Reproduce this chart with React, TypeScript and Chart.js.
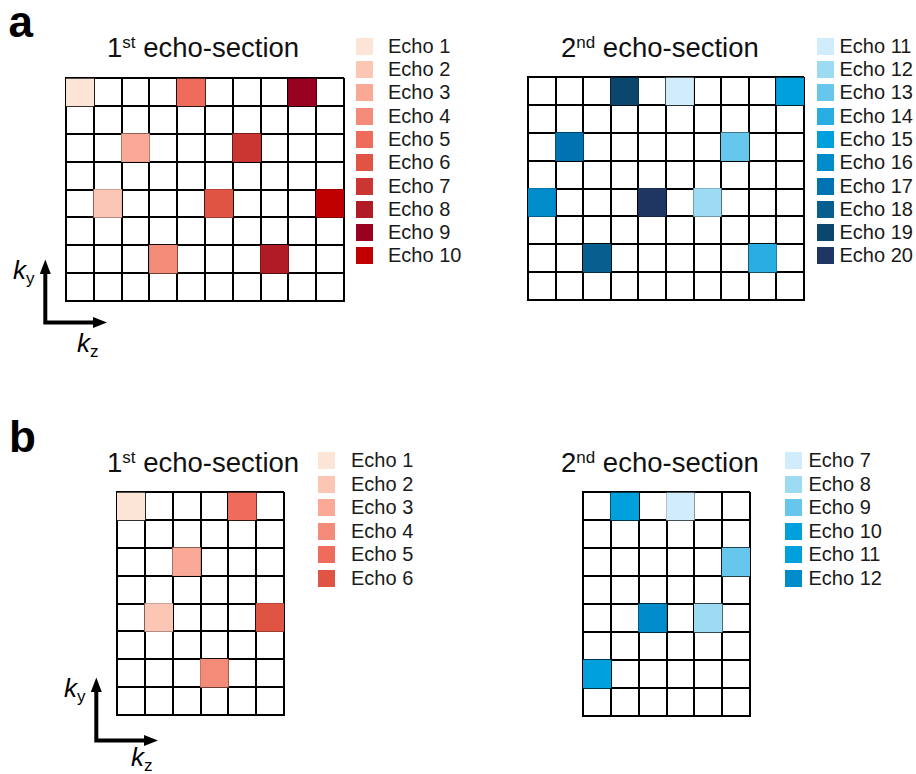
import React, { useEffect, useRef } from "react";
import { Chart, registerables } from "chart.js";

Chart.register(...registerables);

// ---------- data ----------
const ROW_COUNT = 8;
const KZ_LABELS_A = ["1", "2", "3", "4", "5", "6", "7", "8", "9", "10"];
const KZ_LABELS_B = ["1", "2", "3", "4", "5", "6"];

const RED_ECHO_COLORS = [
  "#fce4d6", "#fcc6b5", "#f9a996", "#f38b78", "#ef6b5b",
  "#e05444", "#cb3532", "#b01b25", "#98011f", "#c00000",
];
const BLUE_ECHO_COLORS_A = [
  "#d1ecfa", "#9ddbf3", "#66c6ec", "#2aade2", "#00a0dc",
  "#008cca", "#0073b3", "#065f8f", "#0b466d", "#1f3663",
];
const BLUE_ECHO_COLORS_B = ["#d1ecfa", "#9ddbf3", "#66c6ec", "#00a0dc", "#00a0dc", "#008cca"];

// panel a, 1st echo-section
const A1_ECHOES = [1, 2, 3, 4, 5, 6, 7, 8, 9, 10];
const A1_KZ = ["1", "2", "3", "4", "5", "6", "7", "8", "9", "10"];
const A1_KY_ROW = [1, 5, 3, 7, 1, 5, 3, 7, 1, 5];
// panel a, 2nd echo-section
const A2_ECHOES = [11, 12, 13, 14, 15, 16, 17, 18, 19, 20];
const A2_KZ = ["6", "7", "8", "9", "10", "1", "2", "3", "4", "5"];
const A2_KY_ROW = [1, 5, 3, 7, 1, 5, 3, 7, 1, 5];
// panel b, 1st echo-section
const B1_ECHOES = [1, 2, 3, 4, 5, 6];
const B1_KZ = ["1", "2", "3", "4", "5", "6"];
const B1_KY_ROW = [1, 5, 3, 7, 1, 5];
// panel b, 2nd echo-section
const B2_ECHOES = [7, 8, 9, 10, 11, 12];
const B2_KZ = ["4", "5", "6", "1", "2", "3"];
const B2_KY_ROW = [1, 5, 3, 7, 1, 5];

// ---------- layout ----------
const FONT = "'Liberation Sans', Arial, Helvetica, sans-serif";
const PAD = 3;

type PanelDef = {
  id: string;
  labels: string[];
  echoes: number[];
  kz: string[];
  kyRow: number[];
  colors: string[];
  colorOffset: number;
  grid: { left: number; top: number; w: number; h: number };
  legend: { boxLeft: number; top: number; textLeft: number; step: number };
  title: { num: string; sup: string; left: number; top: number };
};

const PANELS: PanelDef[] = [
  {
    id: "a1", labels: KZ_LABELS_A, echoes: A1_ECHOES, kz: A1_KZ, kyRow: A1_KY_ROW,
    colors: RED_ECHO_COLORS, colorOffset: 1,
    grid: { left: 66, top: 78, w: 278, h: 223 },
    legend: { boxLeft: 356, top: 37.7, textLeft: 388, step: 23.3 },
    title: { num: "1", sup: "st", left: 107, top: 33.5 },
  },
  {
    id: "a2", labels: KZ_LABELS_A, echoes: A2_ECHOES, kz: A2_KZ, kyRow: A2_KY_ROW,
    colors: BLUE_ECHO_COLORS_A, colorOffset: 11,
    grid: { left: 528, top: 77, w: 276, h: 223 },
    legend: { boxLeft: 817, top: 37.7, textLeft: 839.5, step: 23.3 },
    title: { num: "2", sup: "nd", left: 561, top: 33.5 },
  },
  {
    id: "b1", labels: KZ_LABELS_B, echoes: B1_ECHOES, kz: B1_KZ, kyRow: B1_KY_ROW,
    colors: RED_ECHO_COLORS, colorOffset: 1,
    grid: { left: 117, top: 492, w: 167, h: 223 },
    legend: { boxLeft: 318, top: 452.3, textLeft: 351, step: 23.5 },
    title: { num: "1", sup: "st", left: 107, top: 448.5 },
  },
  {
    id: "b2", labels: KZ_LABELS_B, echoes: B2_ECHOES, kz: B2_KZ, kyRow: B2_KY_ROW,
    colors: BLUE_ECHO_COLORS_B, colorOffset: 7,
    grid: { left: 583, top: 492, w: 167, h: 224 },
    legend: { boxLeft: 784.5, top: 452.3, textLeft: 808.5, step: 23.5 },
    title: { num: "2", sup: "nd", left: 561, top: 448.5 },
  },
];

function GridChart({ p }: { p: PanelDef }) {
  const ref = useRef<HTMLCanvasElement | null>(null);
  useEffect(() => {
    if (!ref.current) return;
    const cellColors = p.echoes.map((e) => p.colors[e - p.colorOffset]);
    const chart = new Chart(ref.current, {
      type: "bar",
      data: {
        labels: p.labels,
        datasets: [
          {
            label: "echoes",
            data: p.echoes.map((_, i) => ({ x: p.kz[i], y: [p.kyRow[i] - 1, p.kyRow[i]] })) as any,
            backgroundColor: cellColors,
            borderWidth: 0,
            barPercentage: 1,
            categoryPercentage: 1,
          },
        ],
      },
      options: {
        animation: false,
        responsive: false,
        events: [],
        layout: { padding: PAD },
        plugins: {
          legend: { display: false },
          title: { display: false },
          tooltip: { enabled: false },
        },
        scales: {
          x: {
            type: "category",
            offset: true,
            z: 1,
            grid: { offset: true, color: "#000", lineWidth: 2, drawTicks: false },
            border: { display: true, color: "#000", width: 2 },
            ticks: { display: false },
          },
          y: {
            type: "linear",
            min: 0,
            max: ROW_COUNT,
            reverse: true,
            z: 1,
            grid: { color: "#000", lineWidth: 2, drawTicks: false },
            border: { display: true, color: "#000", width: 2 },
            ticks: { display: false, stepSize: 1 },
          },
        },
      } as any,
    });
    return () => chart.destroy();
  }, [p]);
  const w = p.grid.w + 2 * PAD;
  const h = p.grid.h + 2 * PAD;
  return (
    <div style={{ position: "absolute", left: p.grid.left - PAD, top: p.grid.top - PAD, width: w, height: h }}>
      <canvas ref={ref} width={w} height={h} style={{ display: "block", width: w, height: h }} />
    </div>
  );
}

function Legend({ p }: { p: PanelDef }) {
  return (
    <>
      {p.echoes.map((e, i) => {
        const top = p.legend.top + i * p.legend.step;
        return (
          <React.Fragment key={e}>
            <div
              style={{
                position: "absolute", left: p.legend.boxLeft, top, width: 17, height: 17,
                background: p.colors[e - p.colorOffset],
              }}
            />
            <div
              style={{
                position: "absolute", left: p.legend.textLeft, top, height: 17, lineHeight: "17px",
                fontSize: 20, fontFamily: FONT, color: "#1a1a1a", whiteSpace: "nowrap",
              }}
            >
              {`Echo ${e}`}
            </div>
          </React.Fragment>
        );
      })}
    </>
  );
}

function Title({ p }: { p: PanelDef }) {
  return (
    <div
      style={{
        position: "absolute", left: p.title.left, top: p.title.top, fontSize: 27.5, lineHeight: "27px",
        fontFamily: FONT, color: "#111", whiteSpace: "nowrap",
      }}
    >
      {p.title.num}
      <span style={{ fontSize: 17, position: "relative", top: -9 }}>{p.title.sup}</span>
      {" echo-section"}
    </div>
  );
}

function Axes({ dx, dy, kzDx, kzDy }: { dx: number; dy: number; kzDx: number; kzDy: number }) {
  return (
    <>
      <svg
        style={{ position: "absolute", left: 0, top: 0, overflow: "visible" }}
        width={916}
        height={774}
      >
        <path
          d={`M${45.3 + dx} ${272 + dy} L${45.3 + dx} ${322.5 + dy} L${94 + dx} ${322.5 + dy}`}
          stroke="#000" strokeWidth={4} fill="none" strokeLinejoin="miter"
        />
        <polygon
          points={`${39.8 + dx},${274 + dy} ${45.3 + dx},${259.5 + dy} ${50.8 + dx},${274 + dy}`}
          fill="#000"
        />
        <polygon
          points={`${93 + dx},${317 + dy} ${107 + dx},${322.5 + dy} ${93 + dx},${328 + dy}`}
          fill="#000"
        />
      </svg>
      <div
        style={{
          position: "absolute", left: 13 + dx, top: 257 + dy, fontSize: 26, lineHeight: "26px",
          fontFamily: FONT, fontStyle: "italic", whiteSpace: "nowrap",
        }}
      >
        k<span style={{ fontSize: 17, fontStyle: "normal", position: "relative", top: 5 }}>y</span>
      </div>
      <div
        style={{
          position: "absolute", left: 77 + kzDx, top: 330 + kzDy, fontSize: 26, lineHeight: "26px",
          fontFamily: FONT, fontStyle: "italic", whiteSpace: "nowrap",
        }}
      >
        k<span style={{ fontSize: 17, fontStyle: "normal", position: "relative", top: 5 }}>z</span>
      </div>
    </>
  );
}

export default function App() {
  return (
    <div style={{ position: "absolute", left: 0, top: 0, width: 916, height: 774, background: "#fff", overflow: "hidden" }}>
      <div style={{ position: "absolute", left: 8.5, top: -0.5, fontSize: 44, lineHeight: "44px", fontWeight: "bold", fontFamily: FONT }}>a</div>
      <div style={{ position: "absolute", left: 9, top: 414.5, fontSize: 44, lineHeight: "44px", fontWeight: "bold", fontFamily: FONT }}>b</div>
      <Axes dx={0} dy={0} kzDx={0} kzDy={0} />
      <Axes dx={51} dy={418} kzDx={54} kzDy={414} />
      {PANELS.map((p) => (
        <React.Fragment key={p.id}>
          <GridChart p={p} />
          <Legend p={p} />
          <Title p={p} />
        </React.Fragment>
      ))}
    </div>
  );
}
